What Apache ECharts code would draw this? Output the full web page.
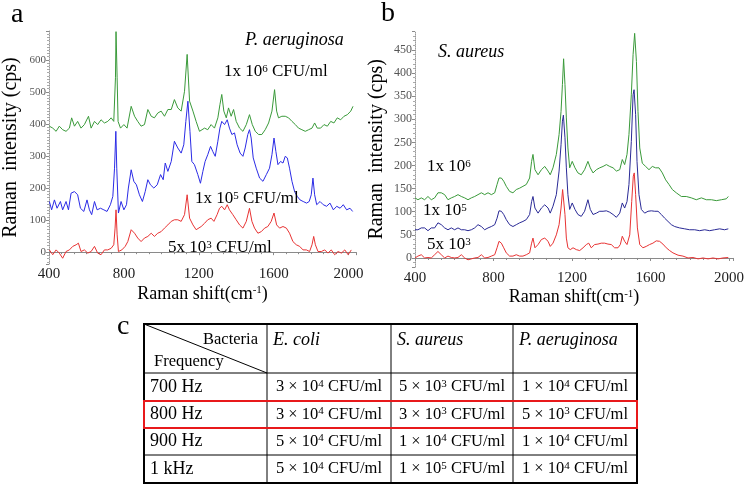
<!DOCTYPE html>
<html>
<head>
<meta charset="utf-8">
<script src="https://cdn.jsdelivr.net/npm/echarts@6/dist/echarts.min.js"></script>
<style>
html,body{margin:0;padding:0;background:#fff;}
#c{width:745px;height:488px;}
</style>
</head>
<body>
<div id="c"></div>
<script>
// ---------- Data ----------
const xTicks = [400, 800, 1200, 1600, 2000];

// Panel a: P. aeruginosa  [Raman shift, intensity]
const aGreen = [[402,393],[420,387],[438,377],[455,393],[473,382],[491,377],[509,387],[521,419],[536,393],[553,408],[571,387],[589,398],[611,424],[625,387],[643,408],[660,398],[678,413],[696,403],[714,408],[732,419],[746,408],[755,544],[758,688],[764,544],[769,408],[782,387],[800,398],[817,387],[839,455],[857,424],[874,408],[892,393],[910,398],[928,445],[946,424],[963,419],[981,434],[999,440],[1017,424],[1035,445],[1053,445],[1070,476],[1088,450],[1106,440],[1124,502],[1138,617],[1151,471],[1169,440],[1186,408],[1204,377],[1213,377],[1231,387],[1248,382],[1266,398],[1284,387],[1302,419],[1313,460],[1323,492],[1334,440],[1347,419],[1359,450],[1373,424],[1386,445],[1400,408],[1418,387],[1436,377],[1454,398],[1471,429],[1486,398],[1502,377],[1520,367],[1537,367],[1555,382],[1573,403],[1591,440],[1605,507],[1616,440],[1626,419],[1644,424],[1662,424],[1680,419],[1698,408],[1716,398],[1733,387],[1751,382],[1769,377],[1787,382],[1805,387],[1819,403],[1833,387],[1851,387],[1869,398],[1887,393],[1905,408],[1922,403],[1940,419],[1958,413],[1976,424],[1994,429],[2012,440],[2024,455]];
const aBlue = [[402,158],[414,132],[429,163],[443,137],[461,158],[473,132],[491,158],[504,132],[518,184],[536,189],[553,179],[568,137],[586,127],[603,163],[616,132],[628,117],[643,158],[657,132],[675,137],[693,132],[710,127],[728,148],[741,174],[750,262],[757,377],[762,262],[771,122],[785,158],[800,132],[814,148],[824,200],[839,257],[853,221],[867,210],[883,179],[899,158],[914,189],[928,226],[942,210],[960,200],[978,210],[996,242],[1010,226],[1021,278],[1035,252],[1053,283],[1070,346],[1088,325],[1106,309],[1120,335],[1131,408],[1142,471],[1153,377],[1163,283],[1177,273],[1195,242],[1209,215],[1222,252],[1234,283],[1248,304],[1263,330],[1275,314],[1288,299],[1302,346],[1313,387],[1323,408],[1338,398],[1352,413],[1364,387],[1377,367],[1391,372],[1405,335],[1421,309],[1436,299],[1448,325],[1462,367],[1471,382],[1480,356],[1491,294],[1507,262],[1525,231],[1543,221],[1561,242],[1578,262],[1591,304],[1602,356],[1612,314],[1623,273],[1637,283],[1650,278],[1662,299],[1673,294],[1685,262],[1698,221],[1712,189],[1726,174],[1741,163],[1758,158],[1776,153],[1790,158],[1801,179],[1810,231],[1819,179],[1830,148],[1848,158],[1865,148],[1883,143],[1901,153],[1919,132],[1937,143],[1955,137],[1972,148],[1990,132],[2008,137],[2022,127]];
const aRed = [[402,7],[420,-8],[438,7],[455,-3],[473,-19],[491,2],[509,7],[527,18],[545,23],[557,28],[571,2],[589,7],[607,-3],[625,2],[643,18],[660,-3],[678,-8],[696,7],[714,7],[732,12],[746,23],[753,75],[758,132],[764,54],[771,2],[789,7],[807,18],[821,33],[839,70],[857,59],[874,44],[892,33],[910,44],[928,49],[946,59],[963,49],[981,59],[999,64],[1017,75],[1035,85],[1053,96],[1070,101],[1088,101],[1106,96],[1124,117],[1138,179],[1151,106],[1169,85],[1186,70],[1195,64],[1213,80],[1231,90],[1248,101],[1266,106],[1281,96],[1298,117],[1311,137],[1323,143],[1338,132],[1352,148],[1364,132],[1382,117],[1400,101],[1418,85],[1436,75],[1454,96],[1471,137],[1484,96],[1498,75],[1516,59],[1534,64],[1552,75],[1569,80],[1587,96],[1602,122],[1616,85],[1632,75],[1650,80],[1668,75],[1685,59],[1703,33],[1721,23],[1739,18],[1757,7],[1775,7],[1792,2],[1805,23],[1814,49],[1823,23],[1837,2],[1855,2],[1873,7],[1890,-3],[1908,7],[1926,-8],[1944,2],[1962,-3],[1980,7],[1998,-8],[2015,7]];

// Panel b: S. aureus
const bGreen = [[400,130],[415,126],[432,130],[449,126],[466,133],[483,126],[500,130],[517,141],[534,141],[551,137],[568,126],[585,130],[602,133],[619,137],[636,133],[653,130],[670,126],[687,130],[704,133],[721,137],[738,141],[755,137],[772,141],[789,137],[806,141],[818,159],[828,173],[840,173],[852,166],[865,155],[882,144],[899,141],[916,148],[933,151],[950,155],[967,159],[984,173],[994,209],[1001,224],[1011,191],[1027,180],[1044,191],[1061,198],[1078,188],[1089,180],[1103,195],[1120,224],[1134,267],[1144,317],[1151,375],[1157,431],[1164,375],[1171,303],[1179,238],[1188,195],[1201,209],[1215,195],[1230,184],[1247,180],[1264,191],[1281,209],[1293,195],[1307,184],[1324,191],[1341,195],[1358,198],[1375,202],[1392,198],[1409,195],[1426,188],[1443,191],[1456,213],[1468,202],[1480,224],[1490,267],[1502,353],[1511,440],[1519,486],[1528,425],[1536,317],[1545,238],[1558,205],[1575,198],[1592,191],[1609,198],[1626,195],[1643,195],[1660,184],[1677,169],[1694,159],[1711,148],[1731,141],[1757,133],[1782,133],[1808,130],[1833,126],[1859,130],[1884,126],[1910,126],[1935,124],[1961,126],[1986,128],[1996,133]];
const bBlue = [[400,61],[415,61],[432,65],[449,65],[466,59],[483,65],[500,65],[517,76],[534,72],[551,65],[568,61],[585,65],[602,61],[619,65],[636,61],[653,61],[670,59],[687,61],[704,65],[721,72],[738,68],[755,61],[772,65],[789,68],[806,72],[818,86],[828,102],[840,101],[852,94],[865,83],[882,72],[899,68],[916,72],[933,76],[950,79],[967,83],[984,94],[994,122],[1001,133],[1011,108],[1027,97],[1044,108],[1061,115],[1078,108],[1089,97],[1103,112],[1120,137],[1134,188],[1144,245],[1151,296],[1156,309],[1164,260],[1171,195],[1179,137],[1188,105],[1201,119],[1215,105],[1230,94],[1247,90],[1264,101],[1281,126],[1293,105],[1307,94],[1324,97],[1341,101],[1358,101],[1375,102],[1392,99],[1409,94],[1426,88],[1443,97],[1456,119],[1468,108],[1480,122],[1490,159],[1502,252],[1511,353],[1516,364],[1524,310],[1531,209],[1541,137],[1553,105],[1570,97],[1587,101],[1604,102],[1621,101],[1638,101],[1655,94],[1672,86],[1689,79],[1706,72],[1723,68],[1748,65],[1774,63],[1799,61],[1825,61],[1850,59],[1876,61],[1901,59],[1926,61],[1952,63],[1977,61],[1996,63]];
const bRed = [[400,0],[415,4],[432,7],[449,0],[466,1],[483,0],[500,7],[517,14],[534,7],[551,0],[568,4],[585,1],[602,0],[619,1],[636,7],[653,0],[670,-4],[687,-2],[704,0],[721,1],[738,7],[755,0],[772,1],[789,4],[806,7],[818,22],[828,36],[840,32],[852,22],[865,11],[882,4],[899,4],[916,7],[933,4],[950,4],[967,7],[984,11],[994,32],[1001,43],[1011,22],[1027,29],[1044,40],[1061,43],[1078,36],[1089,25],[1103,32],[1120,50],[1134,72],[1144,108],[1152,148],[1157,144],[1164,94],[1171,43],[1179,22],[1191,18],[1205,22],[1222,18],[1239,16],[1256,22],[1273,29],[1285,32],[1298,22],[1315,29],[1332,30],[1349,32],[1366,32],[1383,30],[1400,29],[1417,22],[1434,22],[1446,29],[1456,47],[1468,36],[1480,29],[1494,50],[1504,122],[1512,177],[1517,184],[1524,137],[1533,65],[1545,29],[1561,22],[1578,25],[1595,29],[1612,32],[1629,37],[1646,36],[1663,30],[1680,22],[1697,16],[1714,11],[1740,6],[1765,4],[1791,0],[1816,1],[1842,-2],[1867,0],[1893,-2],[1918,0],[1944,-2],[1969,0],[1996,1]];

// Table
const tableBacteria = ['E. coli', 'S. aureus', 'P. aeruginosa'];
const tableFreq = ['700 Hz', '800 Hz', '900 Hz', '1 kHz'];
const tableCoef = [[3,5,1],[3,3,5],[5,1,1],[5,1,1]];
const tableExp  = [[4,3,4],[4,3,3],[4,4,4],[4,5,4]];
const highlightRow = 1;

// ---------- Chart ----------
const FF = 'Liberation Serif';
const chart = echarts.init(document.getElementById('c'), null, {renderer:'canvas'});

function xAxisCfg(gi, max){
  return {
    type:'value', gridIndex:gi, min:400, max:max, interval:400,
    name:'Raman shift(cm{sup|-1})', nameLocation:'middle', nameGap:21,
    nameTextStyle:{fontFamily:FF, fontSize:18, color:'#000',
      rich:{sup:{fontFamily:FF, fontSize:11, verticalAlign:'top', color:'#000'}}},
    axisLine:{lineStyle:{color:'#8a8a8a', width:1}},
    axisTick:{show:true, length:3, lineStyle:{color:'#8a8a8a'}},
    minorTick:{show:true, splitNumber:6, length:2, lineStyle:{color:'#8a8a8a'}},
    splitLine:{show:false},
    axisLabel:{fontFamily:FF, fontSize:15, color:'#222', margin:3, showMaxLabel:false,
      formatter: v => xTicks.indexOf(v) >= 0 ? String(v) : ''}
  };
}
function yAxisCfg(gi, min, max, split, minorSplit, fs){
  return {
    type:'value', gridIndex:gi, min:min, max:max, splitNumber:split,
    name:'Raman  intensity (cps)', nameLocation:'middle', nameGap:28,
    nameTextStyle:{fontFamily:FF, fontSize:20, color:'#000'},
    axisLine:{show:true, lineStyle:{color:'#9a9a9a', width:1, type:'dotted'}},
    axisTick:{show:true, length:3, lineStyle:{color:'#8a8a8a'}},
    minorTick:{show:true, splitNumber:minorSplit, length:2, lineStyle:{color:'#aaaaaa'}},
    splitLine:{show:false},
    axisLabel:{fontFamily:FF, fontSize:fs, color:'#555', margin:3, showMinLabel:false, showMaxLabel:false}
  };
}
function line(data, color, xi){
  return {type:'line', data:data, xAxisIndex:xi, yAxisIndex:xi, showSymbol:false, symbol:'none',
    lineStyle:{color:color, width:1}, itemStyle:{color:color}, animation:false, clip:true};
}

const supRich = (fs) => ({sup:{fontFamily:FF, fontSize:fs, verticalAlign:'top', fill:'#000'}});
function txt(x, y, text, fs, opts){
  opts = opts || {};
  return {type:'text', x:x, y:y, z:100, style:Object.assign({
    text:text, fontFamily:FF, fontSize:fs, fill:'#000',
    align:'left', verticalAlign:'middle', rich:supRich(Math.round(fs*0.65))
  }, opts)};
}

const graphics = [];
// panel letters
graphics.push(txt(11, 15, 'a', 28));
graphics.push(txt(381, 14, 'b', 28));
graphics.push(txt(117, 327, 'c', 28));
// panel a annotations
graphics.push(txt(245, 40, 'P. aeruginosa', 18, {fontStyle:'italic'}));
graphics.push(txt(224, 72, '1x 10{sup|6} CFU/ml', 17));
graphics.push(txt(195, 199, '1x 10{sup|5} CFU/ml', 17));
graphics.push(txt(168, 248, '5x 10{sup|3} CFU/ml', 17));
// panel b annotations
graphics.push(txt(438, 52, 'S. aureus', 18, {fontStyle:'italic'}));
graphics.push(txt(427, 167, '1x 10{sup|6}', 17));
graphics.push(txt(423, 211, '1x 10{sup|5}', 17));
graphics.push(txt(427, 245, '5x 10{sup|3}', 17));

// table
const colX = [144, 267, 391, 513, 637];
const rowY = [324, 373, 401, 428, 455, 483];
const tl = (x1,y1,x2,y2,w,c) => ({type:'line', z:90, shape:{x1,y1,x2,y2}, style:{stroke:c||'#000', lineWidth:w||1}});
for (let i=1;i<colX.length-1;i++) graphics.push(tl(colX[i], rowY[0], colX[i], rowY[rowY.length-1], 1));
for (let j=1;j<rowY.length-1;j++) graphics.push(tl(colX[0], rowY[j], colX[colX.length-1], rowY[j], 1));
graphics.push(tl(colX[0], rowY[0], colX[1], rowY[1], 1));
graphics.push({type:'rect', z:91, shape:{x:colX[0], y:rowY[0], width:colX[4]-colX[0], height:rowY[5]-rowY[0]},
  style:{fill:'none', stroke:'#000', lineWidth:2}});
graphics.push({type:'rect', z:95, shape:{x:colX[0], y:rowY[highlightRow+1], width:colX[4]-colX[0], height:rowY[highlightRow+2]-rowY[highlightRow+1]},
  style:{fill:'none', stroke:'#e8191b', lineWidth:2}});
graphics.push(txt(colX[1]-9, 340, 'Bacteria', 16.5, {align:'right'}));
graphics.push(txt(colX[0]+10, 362, 'Frequency', 16.5));
tableBacteria.forEach((b,i) => graphics.push(txt(colX[i+1]+6, 340, b, 18, {fontStyle:'italic'})));
tableFreq.forEach((f,r) => {
  const cy = (rowY[r+1]+rowY[r+2])/2;
  graphics.push(txt(colX[0]+6, cy, f, 18));
  for (let c=0;c<3;c++){
    graphics.push(txt((colX[c+1]+colX[c+2])/2, cy, tableCoef[r][c] + ' \u00d7 10{sup|' + tableExp[r][c] + '} CFU/ml', 16.5, {align:'center'}));
  }
});

const option = {
  backgroundColor:'#fff',
  animation:false,
  grid:[
    {left:49, top:31, width:307, height:233, containLabel:false, outerBoundsMode:'none'},
    {left:415, top:31.5, width:318, height:235.7, containLabel:false, outerBoundsMode:'none'}
  ],
  xAxis:[xAxisCfg(0, 2040), xAxisCfg(1, 2020)],
  yAxis:[yAxisCfg(0, -37, 690, 7, 10, 11), yAxisCfg(1, -20, 490, 10, 5, 12)],
  series:[
    line(aGreen, '#3a9a3a', 0), line(aBlue, '#2b2be6', 0), line(aRed, '#e83333', 0),
    line(bGreen, '#3a9a3a', 1), line(bBlue, '#2a2a96', 1), line(bRed, '#e83333', 1)
  ],
  graphic:graphics
};
chart.setOption(option);
</script>
</body>
</html>
